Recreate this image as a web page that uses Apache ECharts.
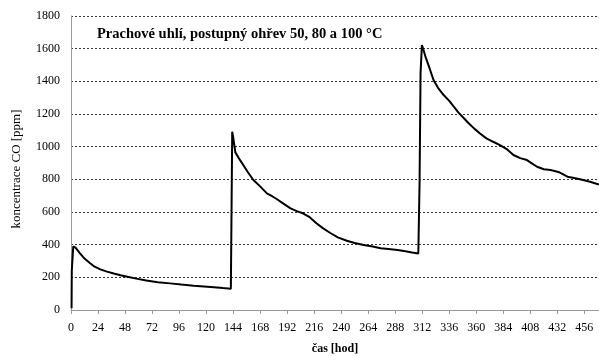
<!DOCTYPE html>
<html>
<head>
<meta charset="utf-8">
<script src="https://cdn.jsdelivr.net/npm/echarts@6/dist/echarts.min.js"></script>
<style>
  html, body { margin: 0; padding: 0; background: #fff; }
  #chart { width: 599px; height: 356px; }
</style>
</head>
<body>
<div id="chart"></div>
<script>
// cas [hod] a koncentrace CO [ppm]
var hours = [
  0.5, 0.7, 2, 4, 8, 12, 17, 21, 26, 32, 38, 44, 50, 58, 67, 77, 88, 98, 109, 118, 127, 135, 142,
  142.8, 143.2, 144, 146, 149, 153, 157, 162, 168, 174, 179, 183, 189, 195, 201, 206, 212, 218, 224, 230, 237, 245, 252, 260, 268, 275, 282, 290, 297, 303, 308.5,
  309.3, 309.6, 310.5, 311.7, 313, 315, 318, 322, 326, 331, 336, 340, 344, 349, 353, 358, 363, 369, 375, 381, 387, 393, 399, 405, 410, 414, 420, 426, 433, 441, 448, 455, 461, 469
]
var co = [
  10, 240, 390, 382, 347, 315, 286, 265, 249, 235, 223, 213, 204, 192, 180, 170, 163, 156, 149, 144, 139, 134, 130,
  128, 1092, 1060, 965, 930, 888, 845, 796, 757, 714, 695, 678, 650, 622, 604, 592, 568, 531, 500, 473, 445, 424, 410, 398, 389, 378, 374, 367, 360, 352, 346,
  345, 770, 1450, 1622, 1595, 1548, 1490, 1408, 1360, 1316, 1280, 1245, 1210, 1174, 1145, 1112, 1082, 1051, 1030, 1010, 985, 949, 930, 918, 895, 877, 862, 857, 845, 816, 806, 796, 785, 768
]
var yTicks = { min: 0, max: 1800, interval: 200 }
var xTicks = { min: 0, max: 469, interval: 24 }

var points = hours.map(function (h, i) { return [h, co[i]] })

var chart = echarts.init(document.getElementById('chart'))
var font = '"Liberation Serif", "Times New Roman", serif'

chart.setOption({
  animation: false,
  textStyle: { fontFamily: font, color: '#000' },
  title: {
    text: 'Prachové uhlí, postupný ohřev 50, 80 a 100 °C',
    left: 92,
    top: 22,
    textStyle: { fontFamily: font, fontSize: 14.5, fontWeight: 'bold', color: '#000' }
  },
  grid: { left: 71, right: 0, top: 16, bottom: 46, outerBoundsMode: 'none', containLabel: false },
  xAxis: {
    type: 'value',
    min: xTicks.min,
    max: xTicks.max,
    interval: xTicks.interval,
    name: 'čas [hod]',
    nameLocation: 'middle',
    nameGap: 33,
    nameTextStyle: { fontFamily: font, fontSize: 12, fontWeight: 'bold', color: '#000' },
    axisLine: { lineStyle: { color: '#999', width: 1 } },
    axisTick: { show: true, length: 4, lineStyle: { color: '#999' } },
    axisLabel: { fontFamily: font, fontSize: 12, color: '#000', margin: 12, showMaxLabel: false },
    splitLine: { show: false }
  },
  yAxis: {
    type: 'value',
    min: yTicks.min,
    max: yTicks.max,
    interval: yTicks.interval,
    name: 'koncentrace CO [ppm]',
    nameLocation: 'middle',
    nameGap: 48,
    nameTextStyle: { fontFamily: font, fontSize: 13, color: '#000', padding: [0, 12, 0, 0] },
    axisLine: { show: true, lineStyle: { color: '#999', width: 1 } },
    axisTick: { show: false },
    axisLabel: {
      fontFamily: font, fontSize: 12, color: '#000', margin: 11,
      formatter: function (v) { return String(v) }
    },
    splitLine: { show: true, lineStyle: { color: '#333', type: [2, 2], width: 1 } }
  },
  series: [
    {
      type: 'line',
      data: points,
      showSymbol: false,
      smooth: false,
      lineStyle: { color: '#000', width: 2 }
    }
  ]
})
</script>
</body>
</html>
